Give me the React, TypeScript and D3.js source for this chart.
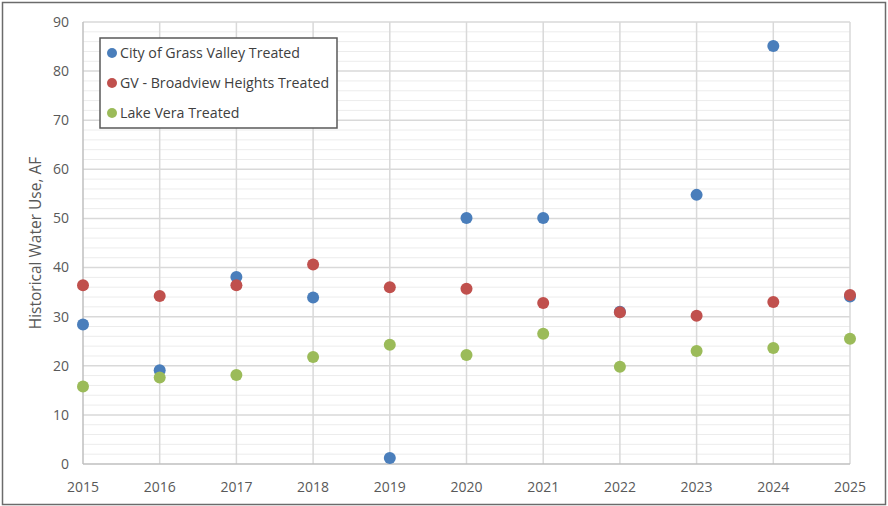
import React, { useEffect, useRef } from 'react';
import * as d3 from 'd3';

const years = [2015, 2016, 2017, 2018, 2019, 2020, 2021, 2022, 2023, 2024, 2025];
const grassValley = [28.4, 19.1, 38.1, 33.9, 1.2, 50.1, 50.1, 31.0, 54.8, 85.1, 34.1];
const broadview = [36.4, 34.2, 36.4, 40.6, 36.0, 35.7, 32.8, 30.9, 30.2, 33.0, 34.4];
const lakeVera = [15.8, 17.6, 18.1, 21.8, 24.3, 22.2, 26.5, 19.8, 23.0, 23.6, 25.5];
const yTicks = [0, 10, 20, 30, 40, 50, 60, 70, 80, 90];

const seriesNames = [
  'City of Grass Valley Treated',
  'GV - Broadview Heights Treated',
  'Lake Vera Treated',
];
const seriesColors = ['#4a7ebb', '#c0504d', '#9bbb59'];

const W = 888;
const H = 506;

export default function App() {
  const ref = useRef<SVGSVGElement>(null);

  useEffect(() => {
    if (!ref.current) return;
    const svg = d3.select(ref.current);
    svg.selectAll('*').remove();

    const left = 83, right = 850, top = 22, bottom = 464;
    const font = "'Open Sans', sans-serif";

    // outer frame
    svg.append('rect')
      .attr('x', 2.5).attr('y', 2.5)
      .attr('width', 883).attr('height', 502)
      .attr('fill', '#fff')
      .attr('stroke', '#6b6b6b')
      .attr('stroke-width', 1.5);

    const x = d3.scaleLinear().domain([2015, 2025]).range([left, right]);
    const y = d3.scaleLinear().domain([0, 90]).range([bottom, top]);

    // minor gridlines
    const minor = d3.range(2, 90, 2).filter(v => v % 10 !== 0);
    svg.append('g').selectAll('line')
      .data(minor).enter().append('line')
      .attr('x1', left).attr('x2', right)
      .attr('y1', d => y(d)).attr('y2', d => y(d))
      .attr('stroke', '#ececec').attr('stroke-width', 1);

    // major gridlines
    svg.append('g').selectAll('line')
      .data(yTicks.slice(1)).enter().append('line')
      .attr('x1', left).attr('x2', right)
      .attr('y1', d => y(d)).attr('y2', d => y(d))
      .attr('stroke', '#d9d9d9').attr('stroke-width', 1.5);

    svg.append('g').selectAll('line')
      .data(years.slice(1)).enter().append('line')
      .attr('x1', d => x(d)).attr('x2', d => x(d))
      .attr('y1', top).attr('y2', bottom)
      .attr('stroke', '#d9d9d9').attr('stroke-width', 1.5);

    // axes lines
    svg.append('line')
      .attr('x1', left).attr('x2', right).attr('y1', bottom).attr('y2', bottom)
      .attr('stroke', '#bfbfbf').attr('stroke-width', 1.5);
    svg.append('line')
      .attr('x1', left).attr('x2', left).attr('y1', top).attr('y2', bottom)
      .attr('stroke', '#bfbfbf').attr('stroke-width', 1.5);

    // y tick labels
    svg.append('g').selectAll('text')
      .data(yTicks).enter().append('text')
      .attr('x', left - 14).attr('y', d => y(d))
      .attr('dy', '0.35em')
      .attr('text-anchor', 'end')
      .attr('font-family', font).attr('font-size', 14)
      .attr('fill', '#595959')
      .text(d => d);

    // x tick labels
    svg.append('g').selectAll('text')
      .data(years).enter().append('text')
      .attr('x', d => x(d)).attr('y', bottom + 23)
      .attr('dy', '0.35em')
      .attr('text-anchor', 'middle')
      .attr('font-family', font).attr('font-size', 14)
      .attr('fill', '#595959')
      .text(d => d);

    // y axis title
    svg.append('text')
      .attr('transform', `translate(41,${(top + bottom) / 2}) rotate(-90)`)
      .attr('text-anchor', 'middle')
      .attr('font-family', font).attr('font-size', 15.5)
      .attr('fill', '#595959')
      .text('Historical Water Use, AF');

    // points, drawn in series order so later series sit on top
    const allSeries = [grassValley, broadview, lakeVera];
    allSeries.forEach((vals, si) => {
      svg.append('g').selectAll('circle')
        .data(vals).enter().append('circle')
        .attr('cx', (d, i) => x(years[i]))
        .attr('cy', d => y(d))
        .attr('r', 6)
        .attr('fill', seriesColors[si]);
    });

    // legend
    const lg = svg.append('g').attr('transform', 'translate(100,38)');
    lg.append('rect')
      .attr('width', 237).attr('height', 90)
      .attr('fill', '#fff')
      .attr('stroke', '#595959').attr('stroke-width', 1.5);
    seriesNames.forEach((name, i) => {
      const row = lg.append('g').attr('transform', `translate(0,${15 + i * 30})`);
      row.append('circle').attr('cx', 12).attr('cy', 0).attr('r', 5).attr('fill', seriesColors[i]);
      row.append('text')
        .attr('x', 20).attr('y', 0).attr('dy', '0.35em')
        .attr('font-family', font).attr('font-size', 14.2)
        .attr('fill', '#404040')
        .text(name);
    });
  }, []);

  return (
    <svg ref={ref} width={W} height={H}
      style={{ position: 'absolute', left: 0, top: 0, display: 'block' }} />
  );
}
